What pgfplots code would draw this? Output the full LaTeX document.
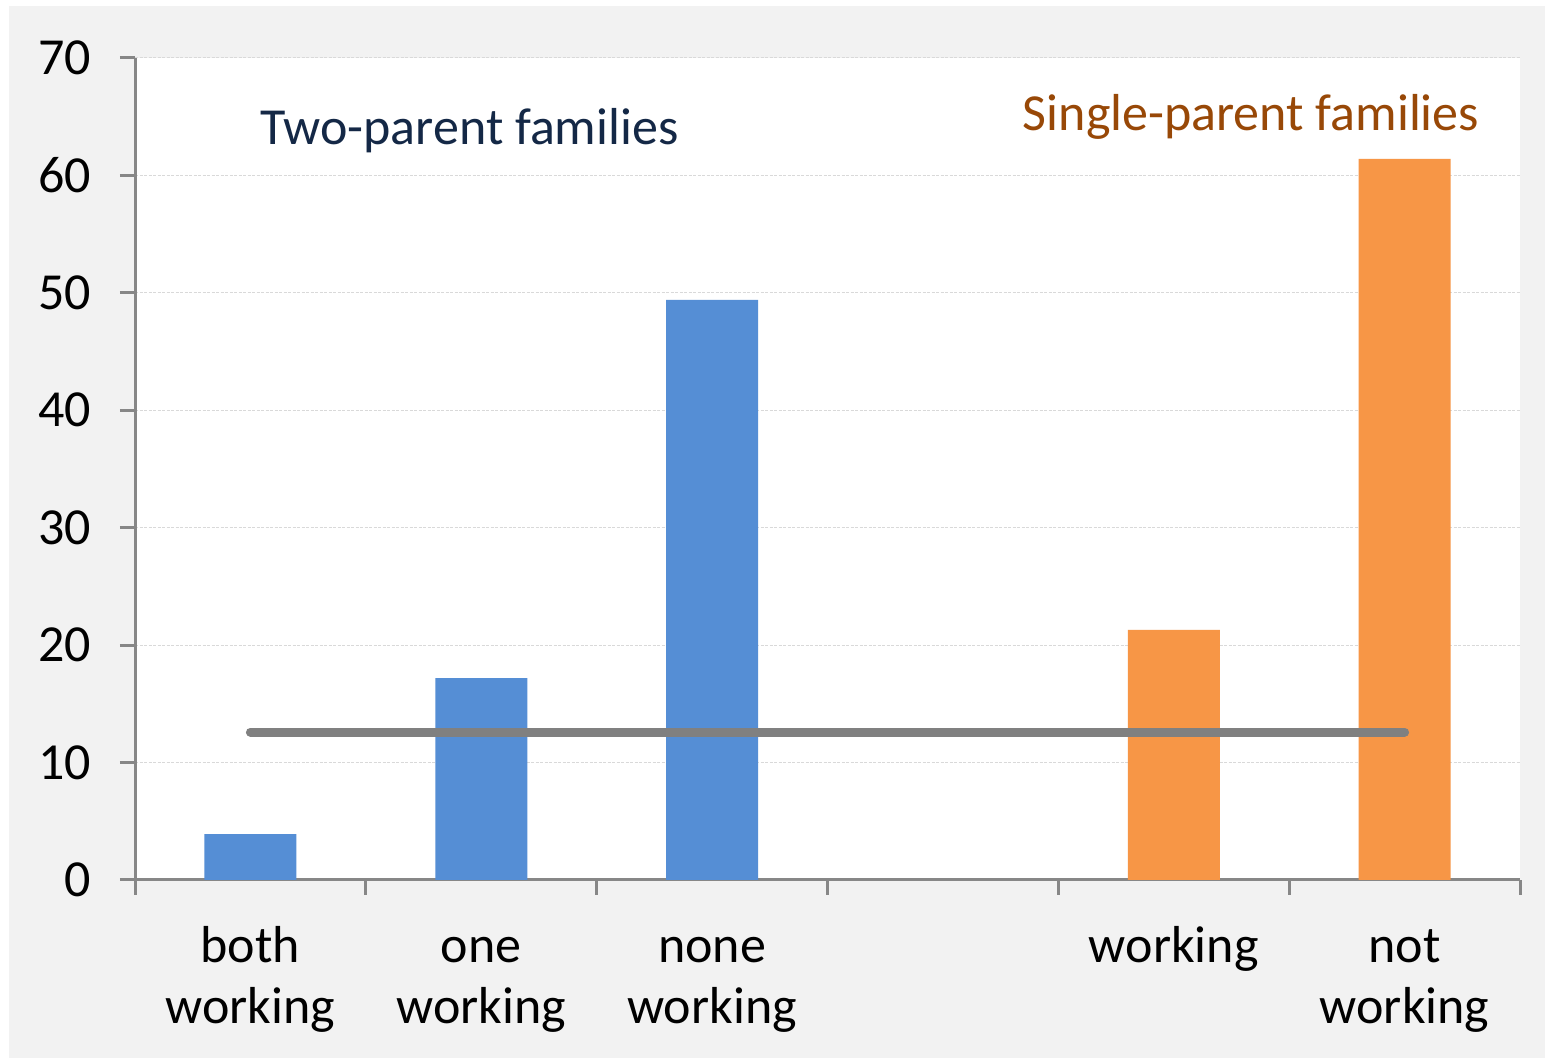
\documentclass[border=0pt]{standalone}
\usepackage{pgfplots}
\pgfplotsset{compat=1.18}
\usepackage{fontspec}
\setmainfont{Carlito}
\definecolor{bgGray}{HTML}{F2F2F2}
\definecolor{barBlue}{HTML}{558ED5}
\definecolor{barOrange}{HTML}{F79646}
\definecolor{axGray}{HTML}{878787}
\definecolor{gridGray}{HTML}{D9D9D9}
\definecolor{lineGray}{HTML}{808080}
\definecolor{navy}{HTML}{142846}
\definecolor{rust}{HTML}{984807}
\begin{document}
\begin{tikzpicture}
\useasboundingbox (0,0) rectangle (772.5pt,529pt);
\fill[white] (0,0) rectangle (772.5pt,529pt);
\fill[bgGray] (4.5pt,0) rectangle (772.5pt,526pt);
\begin{axis}[
  at={(67.5pt,89pt)}, anchor=south west,
  scale only axis, width=692.5pt, height=411pt,
  xmin=-0.5, xmax=5.5, ymin=0, ymax=70,
  axis background/.style={fill=white},
  axis x line*=bottom, axis y line*=left,
  axis line style={axGray, line width=1.5pt, -},
  every tick/.style={axGray, line width=1.5pt},
  tick align=outside, major tick length=7.5pt,
  ytick={0,10,...,70},
  xtick={-0.5,0.5,...,5.5}, xticklabels={},
  extra x ticks={0,1,2,4,5},
  extra x tick labels={{\strut both\\\strut working},{\strut one\\\strut working},{\strut none\\\strut working},{\strut working},{\strut not\\\strut working}},
  extra x tick style={major tick length=0pt, xmajorgrids=false,
     tick label style={align=center, anchor=north, inner sep=0pt, yshift=-19.6pt}},
  ymajorgrids, xmajorgrids=false,
  major grid style={gridGray, line width=0.5pt, dash pattern=on 1.5pt off 0.75pt},
  /pgf/number format/assume math mode=true,
  tick label style={font=\fontsize{26}{30.5}\selectfont, black},
  yticklabel style={xshift=-11pt},
  clip=false,
]
\addplot[ybar, bar width=46pt, bar shift=0pt, fill=barBlue, draw=none]
  coordinates {(0,3.9) (1,17.2) (2,49.4)};
\addplot[ybar, bar width=46pt, bar shift=0pt, fill=barOrange, draw=none]
  coordinates {(4,21.3) (5,61.4)};
\addplot[lineGray, line width=4.5pt, line cap=round]
  coordinates {(0,12.6) (5,12.6)};
\node[anchor=base, font=\fontsize{26}{30}\selectfont, text=navy, inner sep=0pt]
  at (axis cs:0.949,62.6) {Two-parent families};
\node[anchor=base, font=\fontsize{26}{30}\selectfont, text=rust, inner sep=0pt]
  at (axis cs:4.335,63.8) {Single-parent families};
\end{axis}
\end{tikzpicture}
\end{document}
